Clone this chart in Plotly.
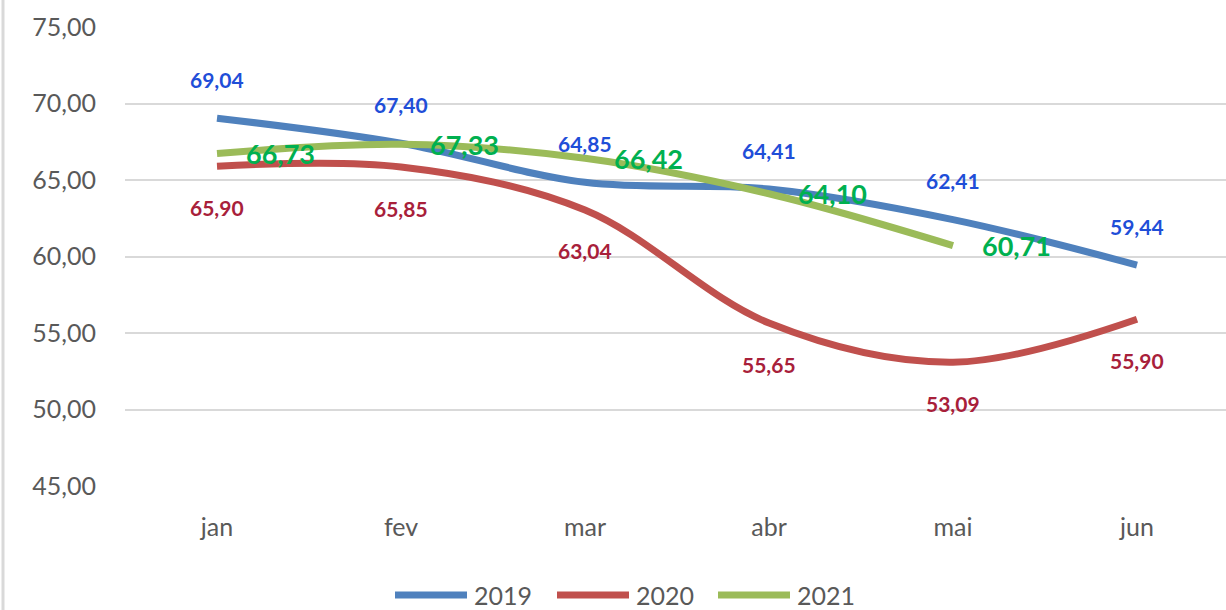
import plotly.graph_objects as go

months = ["jan", "fev", "mar", "abr", "mai", "jun"]
v2019 = [69.04, 67.40, 64.85, 64.41, 62.41, 59.44]
v2020 = [65.90, 65.85, 63.04, 55.65, 53.09, 55.90]
v2021 = [66.73, 67.33, 66.42, 64.10, 60.71]
series_names = ["2019", "2020", "2021"]
y_ticks = [45, 50, 55, 60, 65, 70, 75]

line_colors = ["#4F81BD", "#C0504D", "#9BBB59"]
label_colors = ["#1F4ED8", "#A8203A", "#00B050"]
FONT = "Lato"

W, H = 1226, 610
ML, MT, MB = 125, 27, 124
plot_w = W - ML
cat_px = 184.0
x_end = -0.5 + plot_w / cat_px

def fmt(v):
    return f"{v:.2f}".replace(".", ",")

fig = go.Figure()
for name, vals, col in zip(series_names, [v2019, v2020, v2021], line_colors):
    fig.add_trace(go.Scatter(
        x=list(range(len(vals))), y=vals, mode="lines", name=name,
        line=dict(color=col, width=7, shape="spline", smoothing=1.0),
        showlegend=False, hoverinfo="skip",
    ))

ann = []
for i, v in enumerate(v2019):
    ann.append(dict(x=i, y=v, xref="x", yref="y", text=fmt(v), showarrow=False,
                    yshift=39, font=dict(family=FONT, size=21, color=label_colors[0], weight="bold")))
for i, v in enumerate(v2020):
    ann.append(dict(x=i, y=v, xref="x", yref="y", text=fmt(v), showarrow=False,
                    yshift=-41, font=dict(family=FONT, size=21, color=label_colors[1], weight="bold")))
for i, v in enumerate(v2021):
    ann.append(dict(x=i, y=v, xref="x", yref="y", text=fmt(v), showarrow=False,
                    xanchor="left", xshift=27,
                    font=dict(family=FONT, size=27, color=label_colors[2], weight="bold")))

# custom legend
shapes = []
legend_y = 595
leg_x = [395, 557, 718]
for name, col, lx in zip(series_names, line_colors, leg_x):
    x0 = (lx - ML) / plot_w
    x1 = (lx + 72 - ML) / plot_w
    yy = (H - MB - legend_y) / (H - MT - MB)
    shapes.append(dict(type="line", xref="paper", yref="paper", x0=x0, x1=x1, y0=yy, y1=yy,
                       line=dict(color=col, width=7), layer="above"))
    ann.append(dict(xref="paper", yref="paper", x=(lx + 77 - ML) / plot_w, y=yy,
                    xanchor="left", yanchor="middle", text=name, showarrow=False,
                    font=dict(family=FONT, size=25, color="#595959")))

# left border
shapes.append(dict(type="line", xref="paper", yref="paper",
                   x0=(3 - ML) / plot_w, x1=(3 - ML) / plot_w, y0=-1, y1=2,
                   line=dict(color="#D9D9D9", width=3)))

fig.update_layout(
    width=W, height=H,
    margin=dict(l=ML, r=0, t=MT, b=MB),
    paper_bgcolor="white", plot_bgcolor="white",
    font=dict(family=FONT, color="#595959"),
    annotations=ann, shapes=shapes, showlegend=False,
    xaxis=dict(range=[-0.5, x_end], tickmode="array", tickvals=list(range(len(months))),
               ticktext=months, showgrid=False, zeroline=False, showline=False,
               tickfont=dict(family=FONT, size=25, color="#595959"),
               ticklabelstandoff=24),
    yaxis=dict(range=[45, 75], tickmode="array", tickvals=y_ticks,
               ticktext=[fmt(t) for t in y_ticks], showgrid=True,
               gridcolor="#D9D9D9", gridwidth=2, zeroline=False, showline=False,
               tickfont=dict(family=FONT, size=25, color="#595959"),
               ticklabelstandoff=28),
)

fig.write_html("out.html", config={"displayModeBar": False},
               post_script="document.body.style.margin='0';document.body.style.overflow='hidden';")
